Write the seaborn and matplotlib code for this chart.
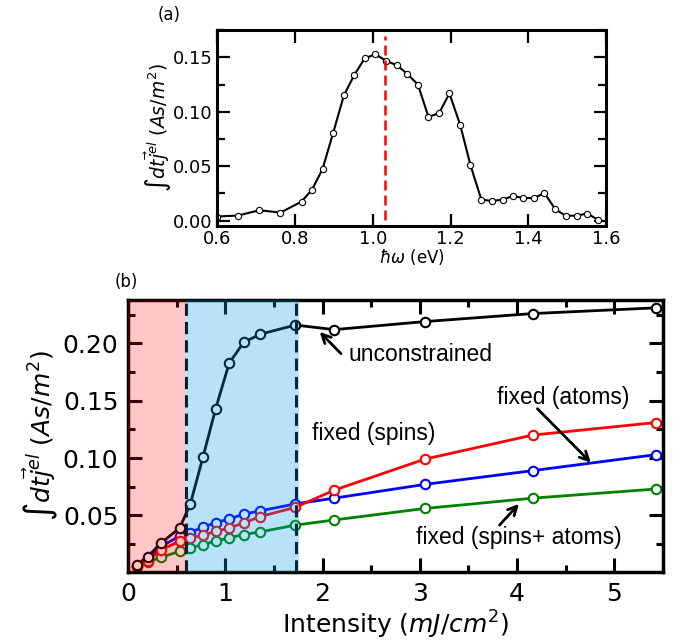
import numpy as np
import matplotlib
matplotlib.use("Agg")
import matplotlib.pyplot as plt
import seaborn as sns
from matplotlib.ticker import MultipleLocator

# (a) spectrum
energy = [0.600, 0.654, 0.709, 0.763, 0.817, 0.844, 0.871, 0.898, 0.926, 0.953,
          0.980, 1.007, 1.034, 1.062, 1.088, 1.116, 1.143, 1.170, 1.197, 1.225,
          1.251, 1.279, 1.306, 1.334, 1.360, 1.387, 1.415, 1.441, 1.469, 1.496,
          1.524, 1.551, 1.578]
charge_a = [0.0037, 0.0046, 0.0095, 0.0073, 0.0174, 0.0284, 0.0473, 0.0802, 0.1152, 0.1341,
            0.1494, 0.1527, 0.1470, 0.1427, 0.1351, 0.1250, 0.0954, 0.0985, 0.1168, 0.0875,
            0.0509, 0.0192, 0.0180, 0.0192, 0.0226, 0.0207, 0.0207, 0.0253, 0.0104, 0.0043,
            0.0046, 0.0064, 0.0009]
energy_mark = 1.031

# (b) intensity scan
intensity = [0.09, 0.20, 0.34, 0.53, 0.64, 0.77, 0.90, 1.04, 1.19, 1.36, 1.72, 2.12, 3.05, 4.16, 5.43]
unconstrained = [0.007, 0.014, 0.026, 0.039, 0.060, 0.101, 0.143, 0.183, 0.201, 0.208, 0.216, 0.212, 0.219, 0.226, 0.231]
fixed_atoms = [0.006, 0.012, 0.023, 0.032, 0.035, 0.040, 0.0435, 0.047, 0.051, 0.054, 0.060, 0.065, 0.077, 0.089, 0.103]
fixed_spins = [0.006, 0.0105, 0.020, 0.0275, 0.030, 0.033, 0.036, 0.039, 0.0435, 0.049, 0.057, 0.072, 0.099, 0.120, 0.131]
fixed_both = [0.0055, 0.0093, 0.0134, 0.0187, 0.0216, 0.0246, 0.0275, 0.0304, 0.0333, 0.0356, 0.0415, 0.046, 0.056, 0.065, 0.073]
region_edges = [0.0, 0.60, 1.73]

sns.set_style("ticks")
plt.rcParams['font.family'] = ['DejaVu Sans']
plt.rcParams['mathtext.fontset'] = 'dejavusans'
for key in ['text.color', 'axes.labelcolor', 'xtick.color', 'ytick.color', 'axes.edgecolor']:
    plt.rcParams[key] = 'black'

fig = plt.figure(figsize=(6.89, 6.42), dpi=100)
ax1 = fig.add_axes([0.315, 0.648, 0.565, 0.305])
ax2 = fig.add_axes([0.186, 0.109, 0.776, 0.424])

ylab = r'$\int dt\vec{j}^{el}\ (As/m^2)$'

# ---- panel (a)
sns.lineplot(x=energy, y=charge_a, ax=ax1, color='k', lw=1.5, marker='o', markersize=4.5,
             markerfacecolor='white', markeredgecolor='k', markeredgewidth=0.8)
ax1.axvline(energy_mark, ymin=0.03, ymax=0.97, color='red', lw=1.8, ls=(0, (4, 2)))
ax1.set_xlim(0.6, 1.6)
ax1.set_ylim(-0.005, 0.175)
ax1.xaxis.set_major_locator(MultipleLocator(0.2))
ax1.yaxis.set_major_locator(MultipleLocator(0.05))
ax1.yaxis.set_minor_locator(MultipleLocator(0.025))
ax1.tick_params(which='both', direction='in', top=True, right=True, labelsize=13, pad=3, width=1.6)
ax1.tick_params(which='major', length=9)
ax1.tick_params(which='minor', length=6)
for s in ax1.spines.values():
    s.set_linewidth(2.2)
ax1.set_xlabel(r'$\hbar\omega$ (eV)', fontsize=12, labelpad=-1)
ax1.set_ylabel(ylab, fontsize=13.5, labelpad=-1)
fig.text(0.245, 0.977, '(a)', fontsize=12, ha='center', va='center')

# ---- panel (b)
series = [(fixed_atoms, 'blue'), (fixed_both, 'green'), (fixed_spins, 'red'), (unconstrained, 'black')]
for vals, col in series:
    sns.lineplot(x=intensity, y=vals, ax=ax2, color=col, lw=2, marker='o', markersize=6.8,
                 markerfacecolor='white', markeredgecolor=col, markeredgewidth=1.5)

for xv in region_edges[1:]:
    ax2.axvline(xv, color='k', lw=2.2, ls=(0, (4, 2)), zorder=2)
ax2.axvspan(region_edges[0], region_edges[1], color='red', alpha=0.22, lw=0, zorder=3)
ax2.axvspan(region_edges[1], 1.76, color='#0099e6', alpha=0.28, lw=0, zorder=3)

ax2.set_xlim(0, 5.5)
ax2.set_ylim(0.0006, 0.238)
ax2.set_yticks([0.05, 0.10, 0.15, 0.20])
ax2.xaxis.set_major_locator(MultipleLocator(1))
ax2.xaxis.set_minor_locator(MultipleLocator(0.5))
ax2.yaxis.set_minor_locator(MultipleLocator(0.025))
ax2.tick_params(which='both', direction='in', top=True, right=True, labelsize=18, pad=7, width=2.2)
ax2.tick_params(which='major', length=10)
ax2.tick_params(which='minor', length=5)
for s in ax2.spines.values():
    s.set_linewidth(2.5)
ax2.set_xlabel(r'Intensity ($mJ/cm^2$)', fontsize=18, labelpad=2)
ax2.set_ylabel(ylab, fontsize=18, labelpad=2)
fig.text(0.183, 0.561, '(b)', fontsize=12, ha='center', va='center')

arrow = dict(arrowstyle='->', lw=2, color='k', shrinkA=0, shrinkB=0, mutation_scale=16)
txt = dict(fontsize=16.5, family=['Liberation Sans', 'DejaVu Sans'], va='center')
ax2.annotate('', xy=(1.97, 0.210), xytext=(2.19, 0.191), arrowprops=arrow)
ax2.text(2.27, 0.190, 'unconstrained', **txt)
ax2.annotate('', xy=(4.76, 0.096), xytext=(4.21, 0.143), arrowprops=arrow)
ax2.text(3.79, 0.153, 'fixed (atoms)', **txt)
ax2.text(1.895, 0.121, 'fixed (spins)', **txt)
ax2.annotate('', xy=(4.02, 0.060), xytext=(3.82, 0.0415), arrowprops=arrow)
ax2.text(2.964, 0.0304, 'fixed (spins+ atoms)', **txt)

fig.savefig('out.png', dpi=100)
